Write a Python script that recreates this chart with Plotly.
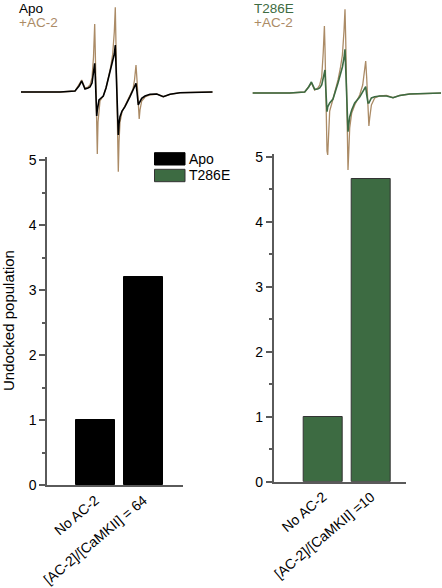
import plotly.graph_objects as go

# ---------------- data ----------------
categories = ["No AC-2", "[AC-2]/[CaMKII] = 64"]
categories_t = ["No AC-2", "[AC-2]/[CaMKII] =10"]
apo_values = [1.0, 3.2]
t286e_values = [1.0, 4.66]

field = [21, 60, 75, 79, 81.7, 85, 88, 90, 92, 93.5, 94.7, 95.3, 95.9, 96.7, 97.3, 98, 99, 100,
         103.3, 106, 108.3, 110.5, 112.7, 114.3, 115.3, 116, 116.8, 117.6, 118.3, 119, 120, 122,
         125, 130, 133, 134.5, 136, 137, 138.3, 139.2, 140, 141.7, 145, 150, 156.7, 163.3, 170,
         180, 212.7]

apo_spec = [0, 0, 1, 6, 11, 3, 4, 5, 9, 18, 28.7, 15, -8, -24, -18, -14, -8, -7,
            -4, 4, 14, 22, 30, 38, 47, 25, -10, -35, -43, -32, -24.7, -19,
            -14.7, -4.7, 1.5, 4.5, 8.7, 0, -13, -11, -9, -6.3, -4, -2.3, -2, -4.7, -2.3,
            -0.7, 0]
apo_ac2_spec = [0, 0, 1, 7, 12, 4, 5, 7, 14, 35, 68, 40, -5, -55, -62, -30, -14, -9,
                -4, 4, 14, 24, 38, 60, 84.7, 50, -15, -65, -79.7, -50, -30, -20,
                -14, -4, 3, 12, 27, 12, -20, -27, -18, -9, -5, -3, -2, -4.7, -2.3,
                -0.7, 0]
t286e_spec = [0, 0, 1, 6, 11, 3.7, 4, 5, 8, 14, 21, 23, 8, -16, -18.7, -14, -11, -10,
              -6, 2, 10, 18, 26, 35, 43.7, 25, -5, -30, -38.7, -32, -24, -17,
              -10, -4, 1, 4, 6.3, -2, -10, -10, -8, -5, -3.7, -3, -3, -4.7, -2.5,
              -1, 0]
t286e_ac2_spec = [0, 0, 1, 6, 10, 3, 5, 8, 16, 40, 67, 45, 5, -40, -58, -62, -35, -18,
                  -6, 3, 13, 24, 38, 62, 83.7, 55, 0, -55, -77, -60, -35, -20,
                  -12, -2, 8, 20, 32, 15, -15, -33, -25, -12, -5, -3, -2.5, -4.7, -2.5,
                  -1, 0]

# ---------------- style ----------------
W, H = 442, 588
BLACK = "#000000"
GREEN = "#3d6b42"
BROWN = "#ab8b66"
AXC = "#5a5a5a"
FONT = "Liberation Sans, Arial, Helvetica, sans-serif"


def px(p):
    return p / W


def py(p):
    return 1 - p / H


fig = go.Figure()

# spectra
fig.add_trace(go.Scatter(x=field, y=apo_ac2_spec, mode="lines", line=dict(color=BROWN, width=1.3),
                         xaxis="x3", yaxis="y3", showlegend=False, hoverinfo="skip"))
fig.add_trace(go.Scatter(x=field, y=apo_spec, mode="lines", line=dict(color=BLACK, width=1.6),
                         xaxis="x3", yaxis="y3", showlegend=False, hoverinfo="skip"))
fig.add_trace(go.Scatter(x=field, y=t286e_ac2_spec, mode="lines", line=dict(color=BROWN, width=1.3),
                         xaxis="x4", yaxis="y4", showlegend=False, hoverinfo="skip"))
fig.add_trace(go.Scatter(x=field, y=t286e_spec, mode="lines", line=dict(color=GREEN, width=1.6),
                         xaxis="x4", yaxis="y4", showlegend=False, hoverinfo="skip"))

# bars
fig.add_trace(go.Bar(x=[0, 1], y=apo_values, width=0.81, marker=dict(color=BLACK, line=dict(color=BLACK, width=1)),
                     name="Apo", xaxis="x", yaxis="y", showlegend=False))
fig.add_trace(go.Bar(x=[0, 1], y=t286e_values, width=0.81, marker=dict(color=GREEN, line=dict(color="#333333", width=1)),
                     name="T286E", xaxis="x2", yaxis="y2", showlegend=False))

bar_x = dict(showline=True, linecolor=AXC, linewidth=1.5, ticks="", showgrid=False, zeroline=False,
             tickmode="array", tickvals=[0, 1], tickangle=-40, automargin=False,
             tickfont=dict(family=FONT, size=14, color="black"))
bar_y = dict(showline=True, linecolor=AXC, linewidth=1.5, ticks="outside", ticklen=6, tickwidth=1.5,
             tickcolor=AXC, showgrid=False, zeroline=False, tickmode="array", tickvals=[0, 1, 2, 3, 4, 5],
             automargin=False, tickfont=dict(family=FONT, size=14, color="black"),
             minor=dict(ticks="outside", ticklen=3, tickwidth=1.5, tickcolor=AXC, dtick=0.5, showgrid=False))

fig.update_layout(
    width=W, height=H, margin=dict(l=0, r=0, t=0, b=0, autoexpand=False),
    paper_bgcolor="white", plot_bgcolor="rgba(0,0,0,0)",
    font=dict(family=FONT, size=14, color="black"),
    bargap=0,
    xaxis=dict(bar_x, domain=[px(47), px(183)], range=[-1.01, 1.82], ticktext=categories, anchor="y"),
    yaxis=dict(bar_y, domain=[py(485), py(157)], range=[0, (485 - 157) / 65], anchor="x"),
    xaxis2=dict(bar_x, domain=[px(273.7), px(406)], range=[-1.03, 1.725], ticktext=categories_t, anchor="y2"),
    yaxis2=dict(bar_y, domain=[py(481.7), py(154)], range=[0, (481.7 - 154) / 65], anchor="x2"),
    xaxis3=dict(domain=[px(21), px(212.7)], range=[21, 212.7], visible=False, anchor="y3"),
    yaxis3=dict(domain=[py(180), py(0)], range=[92 - 180, 92], visible=False, anchor="x3"),
    xaxis4=dict(domain=[px(252.7), px(441)], range=[23, 211.3], visible=False, anchor="y4"),
    yaxis4=dict(domain=[py(180), py(0)], range=[93 - 180, 93], visible=False, anchor="x4"),
)

ann = []
def text(t, x, y, color="black", size=14, angle=0, xanchor="left", yanchor="middle"):
    ann.append(dict(text=t, x=px(x), y=py(y), xref="paper", yref="paper", showarrow=False,
                    font=dict(family=FONT, size=size, color=color), textangle=angle,
                    xanchor=xanchor, yanchor=yanchor, borderpad=0))

text("Apo", 18, 8, size=13.5)
text("+AC-2", 18, 22, color=BROWN, size=13.5)
text("T286E", 253, 8, color=GREEN, size=13.5)
text("+AC-2", 253, 22, color=BROWN, size=13.5)
text("Undocked population", 8, 321, size=15, angle=-90, xanchor="center")
# legend
text("Apo", 188, 158.8)
text("T286E", 188, 175.3)
fig.update_layout(annotations=ann)

fig.update_layout(shapes=[
    dict(type="rect", xref="paper", yref="paper", x0=px(154.5), x1=px(185), y0=py(165), y1=py(152.7),
         fillcolor=BLACK, line=dict(color=BLACK, width=1)),
    dict(type="rect", xref="paper", yref="paper", x0=px(154.5), x1=px(185), y0=py(181.7), y1=py(169.3),
         fillcolor=GREEN, line=dict(color="#333333", width=1)),
])

fig.write_html("out.html", config={"displayModeBar": False},
               post_script="document.body.style.margin='0';document.body.style.padding='0';"
                           "document.documentElement.style.overflow='hidden';")
